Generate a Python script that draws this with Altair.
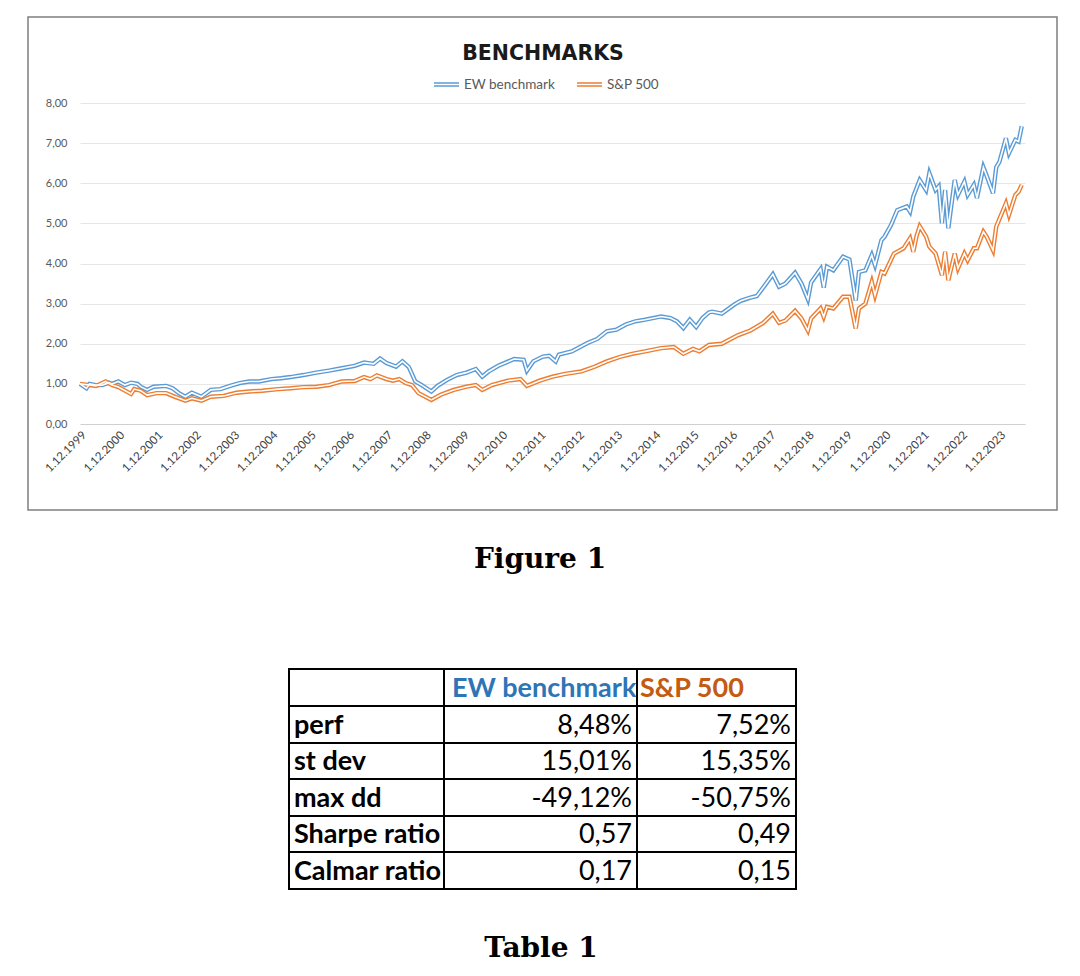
import altair as alt
import pandas as pd

# ---------------- data ----------------
# months counted from 1.12.1999
EW_MONTH = [0, 2, 3, 5, 7, 9, 10, 12, 14, 16, 18, 19, 21, 23, 27, 29, 31, 33, 35, 38,
            41, 44, 47, 50, 53, 56, 60, 63, 66, 70, 74, 78, 82, 86, 89, 92, 94, 96, 99, 101,
            103, 105, 107, 110, 112, 115, 118, 121, 124, 126, 128, 131, 136, 139, 140, 142, 145, 147, 149, 150,
            154, 159, 162, 165, 168, 171, 174, 177, 182, 185, 187, 189, 191, 193, 195, 197, 198, 201, 205, 207,
            210, 212, 214, 217, 219, 221, 224, 226, 228, 229, 232, 233, 234, 236, 239, 241, 243, 244, 246, 248,
            249, 251, 252, 254, 256, 259, 260, 261, 263, 265, 266, 268, 269, 270, 271, 272, 274, 275, 277, 278,
            280, 281, 283, 284, 286, 287, 288, 290, 291, 293, 294, 295]
EW_VALUE = [1.00, 0.89, 1.00, 0.97, 0.97, 1.03, 1.00, 1.06, 0.97, 1.03, 1.00, 0.93, 0.85, 0.93, 0.95, 0.89, 0.77, 0.68, 0.78, 0.68,
            0.85, 0.87, 0.95, 1.02, 1.06, 1.06, 1.12, 1.14, 1.17, 1.22, 1.28, 1.33, 1.39, 1.45, 1.53, 1.50, 1.63, 1.52, 1.43, 1.56,
            1.42, 1.06, 0.97, 0.81, 0.95, 1.10, 1.22, 1.28, 1.37, 1.18, 1.31, 1.45, 1.62, 1.60, 1.33, 1.56, 1.68, 1.70, 1.56, 1.73,
            1.81, 2.02, 2.12, 2.31, 2.35, 2.48, 2.56, 2.60, 2.68, 2.64, 2.56, 2.39, 2.60, 2.42, 2.64, 2.78, 2.80, 2.75, 2.98, 3.07,
            3.15, 3.19, 3.40, 3.73, 3.42, 3.50, 3.77, 3.50, 3.11, 3.53, 3.86, 3.40, 3.92, 3.83, 4.17, 4.10, 3.08, 3.79, 3.83, 4.21,
            3.96, 4.58, 4.67, 4.96, 5.33, 5.42, 5.29, 5.67, 6.08, 5.83, 6.25, 5.83, 5.92, 5.00, 5.83, 4.88, 6.08, 5.71, 6.04, 5.71,
            5.96, 5.63, 6.40, 6.19, 5.75, 6.40, 6.53, 7.12, 6.75, 7.08, 7.04, 7.42]

SP_MONTH = [0, 3, 5, 8, 10, 12, 16, 17, 19, 21, 24, 27, 30, 33, 35, 38, 41, 45, 49, 53,
            57, 62, 66, 70, 74, 78, 82, 86, 89, 91, 93, 96, 98, 100, 102, 104, 106, 110, 113, 117,
            121, 124, 126, 129, 134, 138, 140, 144, 148, 152, 157, 161, 165, 169, 173, 177, 182, 186, 189, 192,
            194, 197, 201, 206, 210, 214, 217, 219, 221, 224, 226, 228, 229, 232, 233, 234, 236, 239, 241, 243,
            244, 246, 248, 249, 251, 252, 255, 258, 260, 261, 262, 263, 265, 266, 268, 270, 271, 272, 274, 275,
            277, 278, 280, 281, 283, 284, 286, 287, 290, 291, 293, 294, 295]
SP_VALUE = [1.00, 0.97, 0.95, 1.06, 0.97, 0.92, 0.75, 0.87, 0.83, 0.72, 0.77, 0.77, 0.67, 0.58, 0.64, 0.58, 0.68, 0.70, 0.78, 0.81,
            0.83, 0.87, 0.89, 0.92, 0.93, 0.97, 1.06, 1.07, 1.17, 1.12, 1.21, 1.12, 1.08, 1.12, 1.02, 0.97, 0.77, 0.60, 0.73, 0.85,
            0.93, 0.97, 0.85, 0.97, 1.08, 1.12, 0.95, 1.08, 1.18, 1.25, 1.31, 1.42, 1.56, 1.67, 1.75, 1.81, 1.89, 1.92, 1.75, 1.87,
            1.81, 1.97, 2.00, 2.21, 2.33, 2.52, 2.75, 2.52, 2.58, 2.82, 2.63, 2.33, 2.63, 2.88, 2.67, 2.92, 2.88, 3.17, 3.17, 2.38,
            2.88, 3.00, 3.54, 3.21, 3.79, 3.75, 4.25, 4.38, 4.63, 4.29, 4.67, 4.93, 4.67, 4.42, 4.25, 3.71, 4.29, 3.58, 4.25, 3.88,
            4.25, 4.08, 4.38, 4.38, 4.79, 4.67, 4.33, 4.92, 5.50, 5.21, 5.71, 5.79, 5.96]

SERIES = ["EW benchmark", "S&P 500"]
COLORS = ["#5B9BD5", "#ED7D31"]
HEADER_COLORS = ["#2E75B6", "#C55A11"]
TICK_YEARS = list(range(1999, 2024))
Y_TICKS = [0, 1, 2, 3, 4, 5, 6, 7, 8]

ROW_LABELS = ["perf", "st dev", "max dd", "Sharpe ratio", "Calmar ratio"]
EW_STATS = ["8,48%", "15,01%", "-49,12%", "0,57", "0,17"]
SP_STATS = ["7,52%", "15,35%", "-50,75%", "0,49", "0,15"]

# ---------------- layout constants ----------------
PLOT_W, PLOT_H = 945, 321
SUB_W = 977                      # width of caption / table panels (origin aligned with plot)
COL_EDGES = [209, 364, 557, 716]
ROW_EDGES = [8, 45, 82, 118, 155, 191, 228]
TABLE_H = 250

START = pd.Timestamp("1999-12-01")


def to_dates(months):
    return [START + pd.DateOffset(months=m) for m in months]


df = pd.concat([
    pd.DataFrame({"date": to_dates(EW_MONTH), "value": EW_VALUE, "series": SERIES[0]}),
    pd.DataFrame({"date": to_dates(SP_MONTH), "value": SP_VALUE, "series": SERIES[1]}),
], ignore_index=True)

one = pd.DataFrame({"k": [0]})

x_enc = alt.X(
    "date:T",
    scale=alt.Scale(domain=[alt.DateTime(year=1999, month=12, date=1),
                            alt.DateTime(year=2024, month=8, date=1)]),
    axis=alt.Axis(
        values=[alt.DateTime(year=y, month=12, date=1) for y in TICK_YEARS],
        format="%-d.%m.%Y", labelAngle=-45, grid=False, ticks=False,
        domainColor="#D0D0D0", labelFont="Lato", labelFontSize=11.5,
        labelColor="#404040", labelOverlap=False, labelFlush=False,
        labelPadding=5, title=None,
    ),
)
y_enc = alt.Y(
    "value:Q",
    scale=alt.Scale(domain=[0, 8], nice=False),
    axis=alt.Axis(
        values=Y_TICKS, labelExpr="replace(format(datum.value, '.2f'), '.', ',')",
        domain=False, ticks=False, gridColor="#E6E6E6", labelFont="Lato",
        labelFontSize=11, labelColor="#595959", labelPadding=13, title=None,
    ),
)

frame = alt.Chart(one).mark_rect(fill="white", fillOpacity=0, stroke="#7F7F7F", strokeWidth=1.5).encode(
    x=alt.value(-52), x2=alt.value(977), y=alt.value(-86), y2=alt.value(407)
)

outer = alt.Chart(df).mark_line(strokeWidth=4.4).encode(
    x=x_enc, y=y_enc,
    color=alt.Color(
        "series:N", scale=alt.Scale(domain=SERIES, range=COLORS),
        legend=alt.Legend(
            orient="none", legendX=353, legendY=-32, direction="horizontal", title=None,
            symbolType="M-1,-0.12L1,-0.12M-1,0.12L1,0.12", symbolSize=625,
            symbolStrokeWidth=1.3, labelFont="Lato", labelFontSize=13.5,
            labelColor="#595959", labelOffset=4, columnPadding=18,
        ),
    ),
)
inner = alt.Chart(df).mark_line(strokeWidth=1.6, color="white").encode(
    x=x_enc, y=y_enc, detail="series:N"
)

title = alt.Chart(one).mark_text(
    text="BENCHMARKS", font="DejaVu Sans", fontSize=20.5, fontWeight="bold",
    color="#1A1A1A", align="center", baseline="alphabetic",
).encode(x=alt.value(463), y=alt.value(-43))

main = alt.layer(frame, outer, inner, title).properties(width=PLOT_W, height=PLOT_H)

fig_caption = alt.Chart(one).mark_text(
    text="Figure 1", font="DejaVu Serif", fontSize=28, fontWeight="bold",
    color="black", align="center", baseline="alphabetic",
).encode(x=alt.value(460), y=alt.value(57)).properties(width=SUB_W, height=150)

# ---------------- table ----------------
cells = []
for r in range(len(ROW_EDGES) - 1):
    for c in range(len(COL_EDGES) - 1):
        cells.append({"x1": COL_EDGES[c], "x2": COL_EDGES[c + 1],
                      "y1": ROW_EDGES[r], "y2": ROW_EDGES[r + 1]})
cells = pd.DataFrame(cells)

xs = alt.Scale(domain=[0, SUB_W], range=[0, SUB_W])
ys = alt.Scale(domain=[0, TABLE_H], range=[0, TABLE_H])


def row_mid(r):
    return (ROW_EDGES[r] + ROW_EDGES[r + 1]) / 2 + 1


grid = alt.Chart(cells).mark_rect(fill="white", stroke="black", strokeWidth=2).encode(
    x=alt.X("x1:Q", scale=xs, axis=None), x2="x2:Q",
    y=alt.Y("y1:Q", scale=ys, axis=None), y2="y2:Q",
)

head_df = pd.DataFrame({
    "text": SERIES,
    "x": [COL_EDGES[1] + 8, COL_EDGES[2] + 3],
    "y": [row_mid(0), row_mid(0)],
    "color": HEADER_COLORS,
})
heads = alt.Chart(head_df).mark_text(
    font="Lato", fontSize=27, fontWeight="bold", align="left", baseline="middle"
).encode(
    x=alt.X("x:Q", scale=xs, axis=None), y=alt.Y("y:Q", scale=ys, axis=None),
    text="text:N", color=alt.Color("color:N", scale=None),
)

lab_df = pd.DataFrame({
    "text": ROW_LABELS,
    "x": [COL_EDGES[0] + 5] * len(ROW_LABELS),
    "y": [row_mid(i + 1) for i in range(len(ROW_LABELS))],
})
labels = alt.Chart(lab_df).mark_text(
    font="Lato", fontSize=27, fontWeight="bold", align="left", baseline="middle", color="black"
).encode(x=alt.X("x:Q", scale=xs, axis=None), y=alt.Y("y:Q", scale=ys, axis=None), text="text:N")

val_df = pd.DataFrame({
    "text": EW_STATS + SP_STATS,
    "x": [COL_EDGES[2] - 5] * len(EW_STATS) + [COL_EDGES[3] - 5] * len(SP_STATS),
    "y": [row_mid(i + 1) for i in range(len(EW_STATS))] * 2,
})
values = alt.Chart(val_df).mark_text(
    font="Lato", fontSize=27, align="right", baseline="middle", color="black"
).encode(x=alt.X("x:Q", scale=xs, axis=None), y=alt.Y("y:Q", scale=ys, axis=None), text="text:N")

table = alt.layer(grid, heads, labels, values).properties(width=SUB_W, height=TABLE_H)

tab_caption = alt.Chart(one).mark_text(
    text="Table 1", font="DejaVu Serif", fontSize=28, fontWeight="bold",
    color="black", align="center", baseline="alphabetic",
).encode(x=alt.value(461), y=alt.value(46)).properties(width=SUB_W, height=50)

chart = alt.vconcat(main, fig_caption, table, tab_caption, spacing=0).properties(
    padding={"left": 19, "top": 8, "right": 5, "bottom": 0}
).configure_view(strokeWidth=0)

chart.save("out.html", embed_options={"renderer": "svg", "actions": False})
